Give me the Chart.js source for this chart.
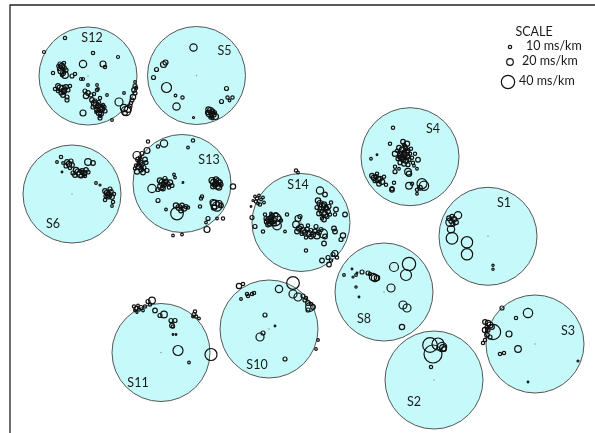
<!DOCTYPE html>
<html><head><meta charset="utf-8">
<script src="https://cdn.jsdelivr.net/npm/chart.js@4"></script>
<style>html,body{margin:0;padding:0;background:#fff}canvas{display:block}</style>
</head><body>
<canvas id="c" width="595" height="433"></canvas>
<script>
// Station layout (plot units, y grows downward) and names
const stations = ['S12','S5','S6','S13','S14','S4','S1','S8','S2','S3','S11','S10'];
const stationX = [88, 196.5, 72, 182, 301, 410, 488, 384, 434, 535, 161, 269];
const stationY = [76, 75.5, 194, 183.5, 222.5, 156.7, 236.3, 292, 380, 344, 352.5, 329];
const scaleValues = [10, 20, 40]; // ms/km

// Splitting measurements per station: [dx, dy, delay ms/km], offsets in plot units from station centre
const S12 = [[-23,-38,10],[-44,-24,9],[5,-23,10],[30,-19,9],[-5,-12,22],[15,-12,18],[17,-9,10],
[-28,-12,12],[-26,-10,16],[-24,-8,14],[-27,-5,18],[-25,-3,15],[-23,-1,20],[-29,-7,10],[-22,-6,12],[-26,-1,10],[-30,-10,8],[-24,-13,10],
[-25,-7,8],[-27,-9,8],[-24,-4,8],
[-35,-3,10],[-16,0,12],[-13,-2,10],[-7,3,9],[-5,3,9],[0,9,8],[9,9,8],
[-30,10,14],[-28,12,18],[-25,13,22],[-24,15,16],[-22,11,14],[-20,14,12],[-27,17,12],[-30,15,10],[-18,10,10],[-25,19,14],[-21,21,12],[-21,24,12],[-33,13,10],
[-26,14,8],[-23,13,8],[-24,17,8],
[-3,15,12],[0,17,14],[3,19,12],[-2,20,16],[6,18,10],[9,14,10],[10,13,8],[19,19,8],[12,22,10],
[4,24,14],[6,27,16],[8,29,18],[10,30,14],[12,32,20],[14,33,16],[9,34,14],[5,31,12],[15,29,10],[17,35,12],[11,37,16],[13,38,14],[16,31,12],[7,25,12],[11,26,10],[12,42,12],[12,40,10],[24,44,8],[-5,37,18],
[9,31,10],[11,33,8],[13,35,10],[8,36,8],[14,30,8],[10,28,8],
[31,26,24],[36,17,8],[36,32,22],[38,35,28],[40,33,20],[37,37,14],[42,30,12],
[47,6,8],[47,10,12],[46,14,14],[47,17,12],[45,21,16],[44,24,12],[48,12,10],[43,27,10]];
const S5 = [[-3,-28,22],[-40,-6,12],[-33,-11,18],[-31,-13,15],[-43,2,12],[-30,12,30],[-21,20,8],[-14,22,10],[-20,31,22],[-3,42,6],[30,13,12],[25,26,12],[31,22,10],[36,22,10],[33,25,8],
[12,34,16],[14,35,18],[16,36,14],[13,38,20],[17,39,16],[15,40,14],[18,37,12],[11,37,12],[19,41,18],[14,42,10],[16,43,8],[14,37,8],[15,39,10],[16,38,6]];
const S6 = [[-11,-37,10],[-15,-32,8],[-9,-31,8],[-5,-32,14],[-3,-30,16],[-1,-33,12],[-6,-28,12],[0,-29,14],[-2,-26,10],[16,-32,20],[21,-31,14],[-10,-22,5],
[4,-24,16],[6,-22,18],[8,-20,20],[3,-19,14],[10,-23,14],[12,-21,16],[14,-24,14],[9,-18,12],[1,-21,12],[13,-18,10],[16,-22,12],
[10,-21,10],[8,-23,8],[12,-19,8],
[24,-11,8],[28,-9,6],[33,-3,14],[35,-1,16],[37,1,18],[39,-2,14],[36,3,12],[40,3,14],[42,0,10],[38,-5,12],[33,6,10],[40,12,8],[41,8,10],[34,2,12],
[37,-1,8],[38,2,8],[36,0,10]];
const S13 = [[-34,-42,10],[-18,-40,22],[-24,-37,10],[6,-36,8],[11,-43,10],[-45,-28,24],[-35,-33,18],
[-44,-24,14],[-42,-21,16],[-40,-19,12],[-43,-17,18],[-41,-14,14],[-38,-16,12],[-45,-12,16],[-39,-11,14],[-46,-18,10],[-36,-21,12],[-42,-26,10],[-37,-24,14],[-47,-15,10],[-35,-13,12],[-40,-30,12],
[-42,-18,8],[-40,-15,8],[-43,-22,8],
[-30,5,25],[-22,-3,16],[-20,-1,18],[-18,1,14],[-21,3,20],[-16,-2,14],[-14,0,12],[-19,5,14],[-17,-5,12],[-12,-1,16],[-10,2,12],[-7,-6,8],[-24,6,12],[-13,4,10],[-8,-9,8],[1,-1,5],
[-19,0,10],[-17,2,8],[-20,3,8],
[-24,17,12],[-16,26,8],
[-6,22,16],[-3,24,18],[0,22,14],[2,25,16],[-1,27,14],[4,23,12],[-5,30,38],[6,24,10],
[-9,52,8],[0,51,8],[19,15,10],[20,13,10],[18,23,10],
[30,-3,18],[32,-1,20],[34,-4,16],[36,-2,18],[33,1,16],[35,2,22],[38,-1,14],[31,3,14],[37,4,16],[39,1,12],[51,3,16],
[34,-2,10],[35,0,8],[33,-1,8],[36,1,10],
[31,19,18],[33,21,26],[35,23,28],[37,20,18],[32,24,16],[39,22,14],
[26,35,12],[35,35,8],[41,35,10],[25,46,18],[24,39,8]];
const S14 = [[-5,-52,10],[-3,-50,8],[19,-32,22],[24,-28,14],
[-46,-26,8],[-44,-24,10],[-42,-27,8],[-40,-23,8],[-45,-21,10],[-38,-25,8],[-43,-19,8],[-41,-18,10],[-48,-22,6],[-37,-20,8],[-50,-16,5],
[-49,-5,12],[-46,4,12],[-38,9,10],[-35,-4,12],
[-34,-1,16],[-32,-3,18],[-30,-5,14],[-28,-2,20],[-31,1,16],[-26,-3,38],[-29,-7,12],[-33,2,14],[-27,1,14],[-25,-8,12],[-22,-4,12],[-24,3,26],[-20,-2,10],[-30,-9,8],[-36,-8,10],
[-29,-3,8],[-27,-1,8],[-31,-2,8],[-28,-5,8],
[-14,-8,10],[-16,9,8],
[-3,-4,18],[-5,2,20],[-2,6,16],[0,4,14],[2,8,18],[-4,9,14],[4,10,16],[6,7,14],[8,11,18],[10,8,12],[12,12,16],[14,9,14],[16,13,20],[18,10,14],[20,7,12],[22,11,26],[10,14,14],[1,11,12],[-1,-6,12],[7,3,10],[15,4,12],[24,14,14],[5,15,10],
[17,-22,16],[19,-19,18],[21,-16,22],[23,-18,16],[20,-13,18],[22,-10,20],[25,-14,16],[27,-11,14],[24,-8,18],[26,-6,12],[28,-16,12],[18,-9,14],[21,-4,10],[29,-8,10],[16,-15,12],[23,-3,14],[30,-20,10],
[22,-14,10],[24,-12,8],[20,-17,10],[25,-17,8],[22,-7,8],
[35,-13,14],[34,-8,10],[44,-8,14],[33,6,14],[34,9,14],[42,13,16],[40,17,12],[23,21,14],[5,28,10],
[21,38,14],[28,42,14],[32,32,12],[27,35,12],[34,31,18],[30,38,10],[36,35,10]];
const S4 = [[-17,-29,10],[-20,-13,10],[-39,2,8],[-33,-2,5],
[-7,-15,14],[-3,-13,16],[-5,-10,12],[-11,-9,14],[-8,-7,16],[-2,-6,12],[1,-8,10],[-15,-3,16],[-10,-3,14],[-6,-2,18],[-3,0,16],[-9,1,14],[-12,2,12],[-7,3,14],[-4,4,16],[-1,3,12],[2,1,10],[-10,6,12],[-6,7,14],[-2,8,12],[3,6,10],[8,3,14],[5,-3,10],[-13,-6,10],[-4,-4,20],[-8,-1,26],[0,-3,10],[4,9,8],
[-9,-4,10],[-7,-1,8],[-5,1,10],[-8,2,8],[-6,-5,10],[-11,0,10],[-4,-8,12],[-6,-12,10],
[-15,10,10],[-15,15,12],[-2,15,20],[-1,17,16],[7,12,8],[-11,12,8],
[-38,19,14],[-36,21,16],[-34,20,12],[-32,23,18],[-30,22,14],[-35,24,12],[-28,25,16],[-31,27,14],[-26,20,10],[-33,17,10],[-24,28,10],
[-18,33,14],[-18,32,12],[-16,26,10],
[-1,29,20],[12,27,30],[14,29,28],[7,33,10],[7,37,8],[2,27,10],[10,31,14]];
const S1 = [[-30,-21,22],[-36,-20,12],[-39,-18,14],[-34,-17,16],[-37,-15,12],[-32,-14,14],[-38,-14,25],[-35,-12,12],[-37,-7,22],[-36,2,35],[-21,6,34],[-21,18,34],[5,29,7],[5,33,7]];
const S8 = [[-40,-17,8],[-32,-23,5],[-31,-15,6],[-28,-17,8],[-27,-19,5],[-22,-20,12],[-16,-19,12],[-14,-18,10],[-11,-15,22],[-9,-14,22],[-7,-14,16],[-28,-5,7],[-25,5,5],[10,-25,27],[25,-28,40],[22,-17,33],[7,-4,24],[19,13,24],[23,16,24],[18,35,16]];
const S2 = [[-4,-35,44],[-1,-26,54],[4,-36,36],[8,-33,28],[9,-32,20],[10,-31,14],[-3,-13,10]];
const S3 = [[-33,-36,12],[-7,-31,28],[-19,-26,10],[-50,-22,14],[-47,-21,16],[-45,-19,18],[-48,-17,12],[-43,-17,14],[-50,-14,16],[-47,-14,12],[-42,-12,46],[-48,-9,14],[-45,-7,12],[-50,-4,10],[-52,-1,10],[-26,-10,18],[-17,5,20],[-35,10,10],[-31,9,10],[-7,38,5],[43,17,6]];
const S11 = [[-27,-46,10],[-25,-44,12],[-23,-47,8],[-22,-43,10],[-20,-45,12],[-18,-42,8],[-26,-42,8],[-24,-40,6],[-16,-46,10],[-13,-51,12],[-9,-52,20],[-11,-48,10],[-6,-42,14],[-1,-37,12],[3,-38,20],[10,-32,12],[14,-32,12],[11,-27,14],[12,-26,10],[12,-18,5],[15,-18,5],[17,-2,30],[28,10,8],[50,2,36],[34,-41,10],[33,-38,12],[35,-36,10],[38,-34,8],[32,-36,8]];
const S10 = [[-30,-43,16],[-26,-45,10],[-22,-35,10],[-21,-33,10],[-17,-35,10],[-15,-36,10],[-28,-30,8],[10,-40,22],[24,-46,38],[24,-35,24],[29,-32,24],[34,-33,12],[36,-29,12],[37,-31,10],[39,-26,14],[41,-22,26],[44,-22,14],[39,-19,12],[42,-25,10],[-4,-14,12],[6,-3,5],[-6,4,12],[-9,8,24],[16,30,12],[49,11,8],[47,20,8]];

const measurements = [S12, S5, S6, S13, S14, S4, S1, S8, S2, S3, S11, S10];

// Drawing constants
const DISC_R = 49;              // station projection radius (plot units == px)
const PX_PER_MS = 1 / 6;        // symbol radius per ms/km
const DISC_FILL = '#c6fafa';
const labelOffsets = [[4,-38],[28,-25],[-19,30],[27,-24],[-3,-38],[23,-28],[16,-33],[-20,27],[-20,22],[33,-13],[-23,30],[-12,36]];
const FONT = '12.5px Lato, "Open Sans", sans-serif';

const discData = stations.map((s, i) => ({x: stationX[i], y: stationY[i], r: DISC_R}));
const centreData = stations.map((s, i) => ({x: stationX[i], y: stationY[i], r: 0.7}));
const splitSets = measurements.map((list, i) => ({
  label: stations[i],
  data: list.map(m => ({x: stationX[i] + m[0], y: stationY[i] + m[1], r: m[2] * PX_PER_MS})),
  backgroundColor: 'rgba(0,0,0,0)',
  borderColor: '#111',
  borderWidth: 1.2,
  order: 1
}));

const overlay = {
  id: 'overlay',
  afterDatasetsDraw(chart) {
    const ctx = chart.ctx, xs = chart.scales.x, ys = chart.scales.y;
    ctx.save();
    // frame on top and left
    ctx.strokeStyle = '#222';
    ctx.lineWidth = 1.3;
    ctx.beginPath();
    ctx.moveTo(xs.getPixelForValue(10), ys.getPixelForValue(433));
    ctx.lineTo(xs.getPixelForValue(10), ys.getPixelForValue(5));
    ctx.lineTo(xs.getPixelForValue(595), ys.getPixelForValue(5));
    ctx.stroke();
    // station names
    ctx.fillStyle = '#1a1a1a';
    ctx.font = FONT;
    ctx.textAlign = 'center';
    ctx.textBaseline = 'middle';
    stations.forEach((s, i) => {
      ctx.fillText(s, xs.getPixelForValue(stationX[i] + labelOffsets[i][0]), ys.getPixelForValue(stationY[i] + labelOffsets[i][1]));
    });
    // delay-time scale key
    ctx.fillText('SCALE', xs.getPixelForValue(534), ys.getPixelForValue(32));
    const keyY = [46, 61, 81], keyX = [510, 510, 508], textX = [526, 522, 519];
    ctx.textAlign = 'left';
    ctx.strokeStyle = '#111';
    ctx.lineWidth = 1.2;
    scaleValues.forEach((v, k) => {
      ctx.beginPath();
      ctx.arc(xs.getPixelForValue(keyX[k]), ys.getPixelForValue(keyY[k] + 1), v * PX_PER_MS, 0, Math.PI * 2);
      ctx.stroke();
      ctx.fillText(v + ' ms/km', xs.getPixelForValue(textX[k]), ys.getPixelForValue(keyY[k]));
    });
    ctx.restore();
  }
};

new Chart(document.getElementById('c'), {
  type: 'bubble',
  data: {
    datasets: [
      {label: 'stations', data: discData, backgroundColor: DISC_FILL, borderColor: '#555', borderWidth: 1, order: 3},
      {label: 'centres', data: centreData, backgroundColor: '#888', borderColor: '#888', borderWidth: 0, order: 2},
      ...splitSets
    ]
  },
  options: {
    responsive: false,
    animation: false,
    events: [],
    layout: {padding: 0, autoPadding: false},
    clip: false,
    scales: {
      x: {type: 'linear', min: 0, max: 595, display: false},
      y: {type: 'linear', min: 0, max: 433, reverse: true, display: false}
    },
    plugins: {legend: {display: false}, tooltip: {enabled: false}}
  },
  plugins: [overlay]
});
</script>
</body></html>
